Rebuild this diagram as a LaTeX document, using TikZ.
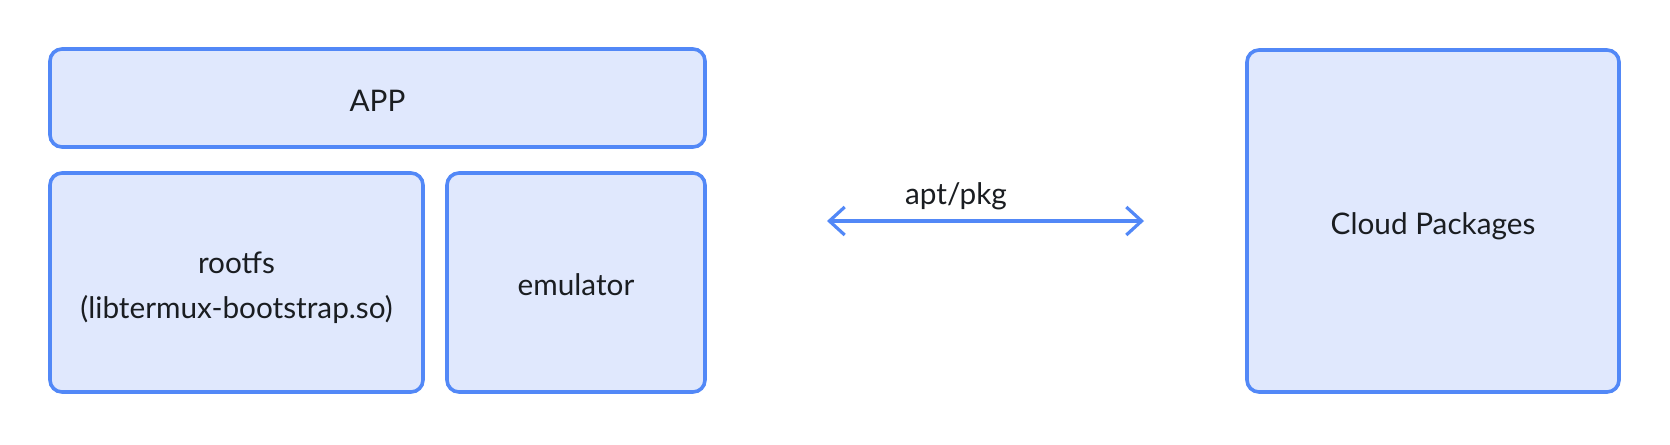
\documentclass[tikz,border=0pt]{standalone}
\usepackage{fontspec}
\setmainfont{Lato}
\usetikzlibrary{arrows.meta}
\definecolor{edge}{HTML}{5288F7}
\definecolor{boxfill}{HTML}{E0E8FD}
\definecolor{txt}{HTML}{1A1D21}
\newcommand{\dn}[1]{\raisebox{0pt}[\dimexpr\height+6.4pt\relax][\depth]{\begin{tabular}{@{}c@{}}#1\end{tabular}}}
\begin{document}
\begin{tikzpicture}[x=0.75pt,y=-0.75pt,
  blk/.style={draw=edge,fill=boxfill,line width=2.7pt,rounded corners=9pt,inner sep=0pt,
    text=txt,font=\fontsize{22.3}{34}\selectfont},
  conn/.style={draw=edge,line width=2.4pt,{Straight Barb[length=11.5pt,width=21pt,line width=2.4pt]}-{Straight Barb[length=11.5pt,width=21pt,line width=2.4pt]}}]
\useasboundingbox[fill=white] (0,0) rectangle (1670,444);
\node[blk,minimum width=655*0.75pt,minimum height=98*0.75pt] (app) at (377.5,98) {\dn{APP}};
\node[blk,minimum width=373*0.75pt,minimum height=219*0.75pt] (rootfs) at (236.5,282.5) {\dn{rootfs\\(libtermux-bootstrap.so)}};
\node[blk,minimum width=258*0.75pt,minimum height=219*0.75pt] (emu) at (576,282.5) {\dn{emulator}};
\node[blk,minimum width=372*0.75pt,minimum height=342*0.75pt] (cloud) at (1433,221) {\dn{Cloud Packages}};
\coordinate (a1) at (827,221);
\coordinate (a2) at (1144,221);
\draw[conn] (a1) -- (a2);
\node[text=txt,font=\fontsize{22.3}{26}\selectfont] (lbl) at (956,196) {apt/pkg};
\end{tikzpicture}
\end{document}
